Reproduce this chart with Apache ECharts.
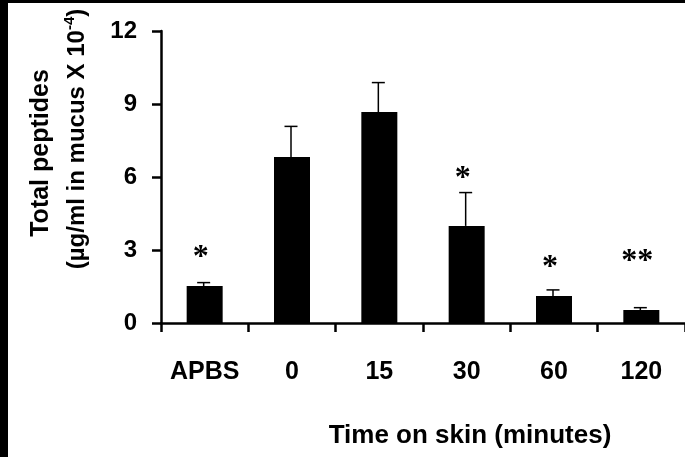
<!DOCTYPE html>
<html>
<head>
<meta charset="utf-8">
<script src="https://cdn.jsdelivr.net/npm/echarts@6/dist/echarts.min.js"></script>
<style>
html,body{margin:0;padding:0;background:#fff;}
#chart{width:685px;height:457px;}
</style>
</head>
<body>
<div id="chart"></div>
<script>
const categories = ['APBS', '0', '15', '30', '60', '120'];
const values = [1.52, 6.82, 8.67, 3.99, 1.11, 0.53];
const errors = [0.14, 1.26, 1.21, 1.37, 0.25, 0.10];
const significance = ['*', '', '', '*', '*', '**'];
const significanceLevel = [3.0, null, null, 6.25, 2.6, 2.85];
const yTicks = [0, 3, 6, 9, 12];

const FONT = '"Liberation Sans", Arial, sans-serif';
const chart = echarts.init(document.getElementById('chart'), null, {renderer: 'canvas'});

const errData = values.map((v, i) => [i, v, v + errors[i]]);
const sigData = significance.map((s, i) => [i, significanceLevel[i] == null ? 0 : significanceLevel[i], s]).filter(d => d[2] !== '');

chart.setOption({
  backgroundColor: '#fff',
  animation: false,
  grid: {left: 161, top: 31, bottom: 134, right: -8, containLabel: false},
  xAxis: {
    type: 'category',
    data: categories,
    axisLine: {lineStyle: {color: '#000', width: 2.5}},
    axisTick: {show: true, interval: 0, length: 9, lineStyle: {color: '#000', width: 2.5}},
    axisLabel: {interval: 0, hideOverlap: false, color: '#000', fontFamily: FONT, fontWeight: 'bold', fontSize: 25, margin: 37},
    splitLine: {show: false}
  },
  yAxis: {
    type: 'value',
    min: yTicks[0],
    max: yTicks[yTicks.length - 1],
    interval: 3,
    axisLine: {show: true, lineStyle: {color: '#000', width: 2.5}},
    axisTick: {show: true, length: 9, lineStyle: {color: '#000', width: 2.5}},
    axisLabel: {color: '#000', fontFamily: FONT, fontWeight: 'bold', fontSize: 24, margin: 24},
    splitLine: {show: false}
  },
  series: [
    {
      type: 'bar',
      data: values,
      barWidth: 36,
      itemStyle: {color: '#000'},
      z: 2
    },
    {
      type: 'custom',
      data: errData,
      z: 3,
      renderItem: function (params, api) {
        const base = api.coord([api.value(0), api.value(1)]);
        const top = api.coord([api.value(0), api.value(2)]);
        const x = base[0] - 1;
        const cap = 6.5;
        return {
          type: 'group',
          children: [
            {type: 'line', shape: {x1: x, y1: base[1], x2: x, y2: top[1]}, style: {stroke: '#000', lineWidth: 1.5}},
            {type: 'line', shape: {x1: x - cap, y1: top[1], x2: x + cap, y2: top[1]}, style: {stroke: '#000', lineWidth: 1.5}}
          ]
        };
      }
    },
    {
      type: 'custom',
      data: sigData,
      z: 4,
      renderItem: function (params, api) {
        const p = api.coord([api.value(0), api.value(1)]);
        const d = sigData[params.dataIndex];
        return {
          type: 'text',
          x: p[0] - 4,
          y: p[1],
          style: {
            text: d[2],
            fill: '#000',
            fontFamily: '"Liberation Serif", "Times New Roman", serif',
            fontWeight: 'bold',
            fontSize: 32,
            align: 'center',
            verticalAlign: 'top',
            y: -8
          }
        };
      }
    }
  ],
  graphic: [
    {type: 'rect', left: 0, top: 0, shape: {width: 685, height: 3}, style: {fill: '#000'}, z: 100},
    {type: 'rect', left: 0, top: 0, shape: {width: 8, height: 457}, style: {fill: '#000'}, z: 100},
    {
      type: 'text', x: 470, y: 436,
      style: {text: 'Time on skin (minutes)', fontFamily: FONT, fontWeight: 'bold', fontSize: 26, fill: '#000', align: 'center', verticalAlign: 'middle'}
    },
    {
      type: 'text', x: 41, y: 153, rotation: Math.PI / 2,
      style: {text: 'Total peptides', fontFamily: FONT, fontWeight: 'bold', fontSize: 25, fill: '#000', align: 'center', verticalAlign: 'middle'}
    },
    {
      type: 'text', x: 77, y: 139, rotation: Math.PI / 2,
      style: {
        text: '(µg/ml in mucus X 10{sup|-4})',
        fontFamily: FONT, fontWeight: 'bold', fontSize: 24, fill: '#000', align: 'center', verticalAlign: 'middle',
        rich: {sup: {fontFamily: FONT, fontWeight: 'bold', fontSize: 15, fill: '#000', padding: [0, 0, 15, 0]}}
      }
    }
  ]
});
</script>
</body>
</html>
